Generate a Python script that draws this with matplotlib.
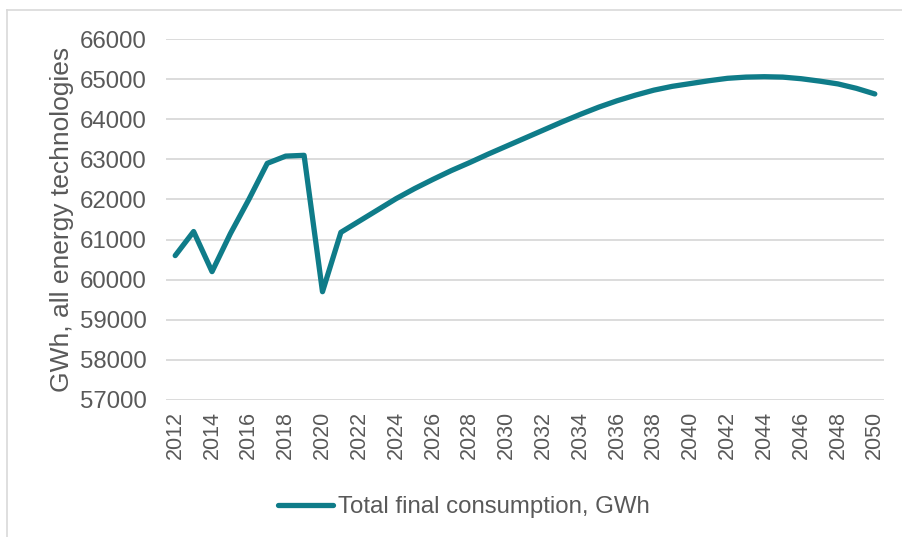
import matplotlib.pyplot as plt
from matplotlib.lines import Line2D

plt.rcParams['font.family'] = ['Liberation Sans', 'DejaVu Sans']

# Total final consumption, GWh
years = list(range(2012, 2051))
consumption = [60600, 61200, 60200, 61150, 62000, 62900, 63080, 63100, 59700, 61180,
               61460, 61740, 62020, 62270, 62500, 62720, 62920, 63130, 63330, 63530,
               63730, 63930, 64120, 64300, 64460, 64600, 64725, 64820, 64890, 64960,
               65020, 65050, 65060, 65050, 65010, 64950, 64880, 64770, 64630]
year_labels = [str(y) for y in range(2012, 2051, 2)]
y_ticks = list(range(57000, 66001, 1000))

grey = '#595959'
teal = '#0F7C89'

fig = plt.figure(figsize=(9.02, 5.37), dpi=100)
ax = fig.add_axes([166 / 902, 1 - 400 / 537, (884 - 166) / 902, (400 - 39) / 537])

ax.plot(years, consumption, color=teal, linewidth=3.8, solid_capstyle='round',
        solid_joinstyle='round', zorder=3)

ax.set_xlim(2011.5, 2050.5)
ax.set_ylim(57000, 66000)
ax.set_yticks(y_ticks)
ax.set_yticklabels([str(v) for v in y_ticks])
ax.set_xticks(range(2012, 2051, 2))
ax.set_xticklabels(year_labels, rotation=90)
ax.tick_params(axis='both', length=0, labelcolor=grey)
ax.tick_params(axis='y', labelsize=17.3, pad=14)
ax.tick_params(axis='x', labelsize=15.5, pad=8)
ax.grid(axis='y', color='#D9D9D9', linewidth=1.3, zorder=0)
ax.set_axisbelow(True)
for s in ax.spines.values():
    s.set_visible(False)

ax.set_ylabel('GWh, all energy technologies', fontsize=19, color=grey)
ax.yaxis.set_label_coords(-0.128, 0.5)

handle = Line2D([], [], color=teal, linewidth=3.8, solid_capstyle='round')
fig.legend([handle], ['Total final consumption, GWh'], loc='center',
           bbox_to_anchor=(464 / 902, 1 - 507 / 537), frameon=False,
           fontsize=17.3, labelcolor=grey, handlelength=2.3, handletextpad=0.2)

# chart area border (only top and left visible in the reference)
fig.add_artist(Line2D([7 / 902, 7 / 902], [0, 1 - 9.5 / 537], color='#D9D9D9', linewidth=1.2))
fig.add_artist(Line2D([7 / 902, 1], [1 - 9.5 / 537, 1 - 9.5 / 537], color='#D9D9D9', linewidth=1.2))

fig.savefig('out.png', dpi=100)
